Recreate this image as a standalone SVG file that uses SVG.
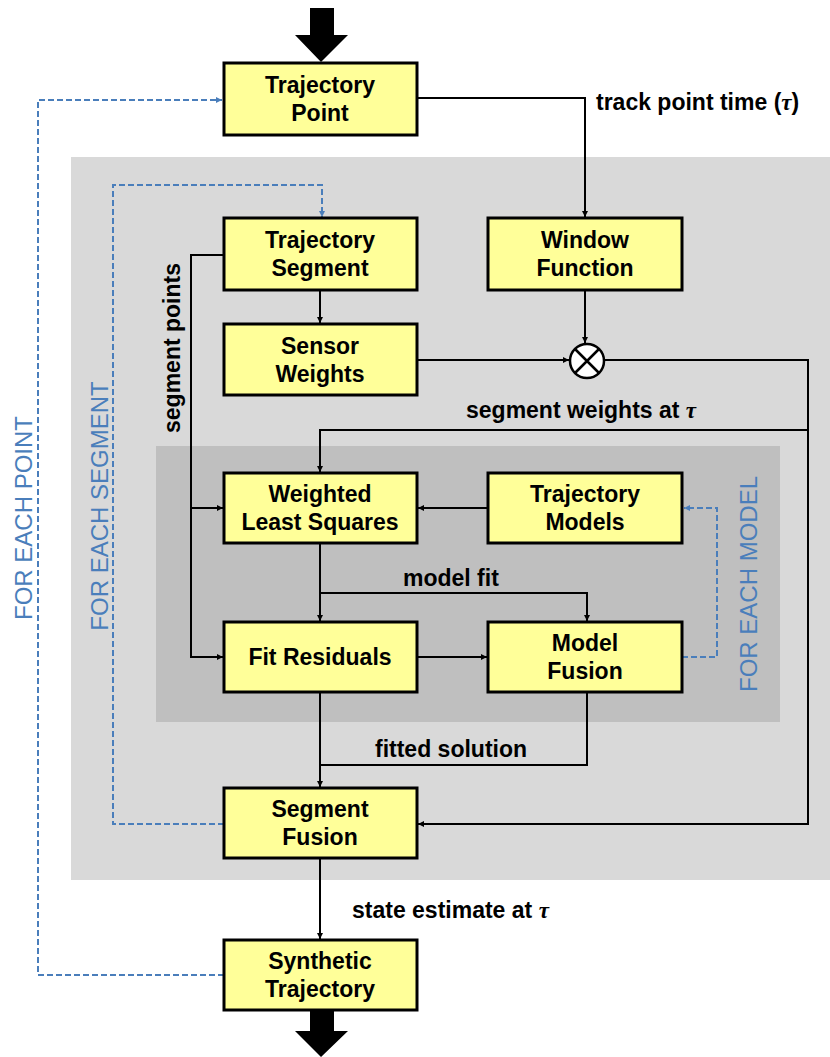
<svg xmlns="http://www.w3.org/2000/svg" width="830" height="1057" viewBox="0 0 830 1057">
<defs>
<style>
.box{fill:#ffff99;stroke:#000;stroke-width:3}
.bt{font-family:"Liberation Sans",Arial,sans-serif;font-weight:bold;font-size:23px;fill:#000;text-anchor:middle}
.lbl{font-family:"Liberation Sans",Arial,sans-serif;font-weight:bold;font-size:23px;fill:#000}
.blue{font-family:"Liberation Sans",Arial,sans-serif;font-size:24px;fill:#4a7ebb;text-anchor:middle}
.ln{fill:none;stroke:#000;stroke-width:2}
.dash{fill:none;stroke:#4a7ebb;stroke-width:2;stroke-dasharray:6,3}
</style>
<marker id="ah" viewBox="0 0 10 10" refX="10" refY="5" markerWidth="6" markerHeight="6" markerUnits="userSpaceOnUse" orient="auto"><path d="M0,0L10,5L0,10z" fill="#000"/></marker>
<marker id="ab" viewBox="0 0 10 10" refX="10" refY="5" markerWidth="6" markerHeight="6" markerUnits="userSpaceOnUse" orient="auto"><path d="M0,0L10,5L0,10z" fill="#4a7ebb"/></marker>
</defs>
<rect width="830" height="1057" fill="#fff"/>
<rect x="71" y="157" width="759" height="723" fill="#d9d9d9"/>
<rect x="156" y="446" width="624" height="276" fill="#bfbfbf"/>

<g id="connectors">
<path d="M310,8H334V35H348L321,62L295,35H310Z" fill="#000"/>
<path d="M310,1011H334V1031H348L321,1057L295,1031H310Z" fill="#000"/>
<path class="ln" d="M417,98H585V217" marker-end="url(#ah)"/>
<path class="ln" d="M320,290V323" marker-end="url(#ah)"/>
<path class="ln" d="M585,290V343" marker-end="url(#ah)"/>
<path class="ln" d="M417,360H569" marker-end="url(#ah)"/>
<path class="ln" d="M604,360H808V824H418" marker-end="url(#ah)"/>
<path class="ln" d="M808,430H320V472" marker-end="url(#ah)"/>
<path class="ln" d="M224,255H191V657H223" marker-end="url(#ah)"/>
<path class="ln" d="M191,508H223" marker-end="url(#ah)"/>
<path class="ln" d="M488,508H418" marker-end="url(#ah)"/>
<path class="ln" d="M320,543V621" marker-end="url(#ah)"/>
<path class="ln" d="M320,593H587V621" marker-end="url(#ah)"/>
<path class="ln" d="M417,657H487" marker-end="url(#ah)"/>
<path class="ln" d="M320,692V787" marker-end="url(#ah)"/>
<path class="ln" d="M587,692V765H320"/>
<path class="ln" d="M320,858V939" marker-end="url(#ah)"/>
<path class="dash" d="M682,657H717V508H684" marker-end="url(#ab)"/>
<path class="dash" d="M224,824H113V185H322V217" marker-end="url(#ab)"/>
<path class="dash" d="M224,975H38V100H222" marker-end="url(#ab)"/>
</g>

<g id="mult">
<circle cx="587" cy="361" r="17" fill="#fff" stroke="#000" stroke-width="2.5"/>
<path d="M575,349L599,373M599,349L575,373" stroke="#000" stroke-width="2.5"/>
</g>

<g id="labels">
<text class="lbl" x="596" y="110">track point time (<tspan font-family="Liberation Serif" font-style="italic">τ</tspan>)</text>
<text class="lbl" x="466" y="418">segment weights at <tspan font-family="Liberation Serif" font-style="italic">τ</tspan></text>
<text class="lbl" x="403" y="586">model fit</text>
<text class="lbl" x="375" y="757">fitted solution</text>
<text class="lbl" x="352" y="918">state estimate at <tspan font-family="Liberation Serif" font-style="italic">τ</tspan></text>
<text class="lbl" transform="translate(180,348) rotate(-90)" text-anchor="middle">segment points</text>
<text class="blue" transform="translate(108,506) rotate(-90)">FOR EACH SEGMENT</text>
<text class="blue" transform="translate(32,518) rotate(-90)">FOR EACH POINT</text>
<text class="blue" transform="translate(757,584) rotate(-90)">FOR EACH MODEL</text>
</g>

<g id="trajectory-point"><rect class="box" x="224" y="63" width="193" height="72"/><text class="bt" x="320" y="93">Trajectory</text><text class="bt" x="320" y="121">Point</text></g>
<g id="trajectory-segment"><rect class="box" x="224" y="218" width="193" height="72"/><text class="bt" x="320" y="248">Trajectory</text><text class="bt" x="320" y="276">Segment</text></g>
<g id="window-function"><rect class="box" x="488" y="218" width="194" height="72"/><text class="bt" x="585" y="248">Window</text><text class="bt" x="585" y="276">Function</text></g>
<g id="sensor-weights"><rect class="box" x="224" y="324" width="193" height="71"/><text class="bt" x="320" y="354">Sensor</text><text class="bt" x="320" y="382">Weights</text></g>
<g id="weighted-least-squares"><rect class="box" x="224" y="473" width="193" height="70"/><text class="bt" x="320" y="502">Weighted</text><text class="bt" x="320" y="530">Least Squares</text></g>
<g id="trajectory-models"><rect class="box" x="488" y="473" width="194" height="70"/><text class="bt" x="585" y="502">Trajectory</text><text class="bt" x="585" y="530">Models</text></g>
<g id="fit-residuals"><rect class="box" x="224" y="622" width="193" height="70"/><text class="bt" x="320" y="665">Fit Residuals</text></g>
<g id="model-fusion"><rect class="box" x="488" y="622" width="194" height="70"/><text class="bt" x="585" y="651">Model</text><text class="bt" x="585" y="679">Fusion</text></g>
<g id="segment-fusion"><rect class="box" x="224" y="788" width="193" height="70"/><text class="bt" x="320" y="817">Segment</text><text class="bt" x="320" y="845">Fusion</text></g>
<g id="synthetic-trajectory"><rect class="box" x="224" y="940" width="193" height="70"/><text class="bt" x="320" y="969">Synthetic</text><text class="bt" x="320" y="997">Trajectory</text></g>
</svg>
